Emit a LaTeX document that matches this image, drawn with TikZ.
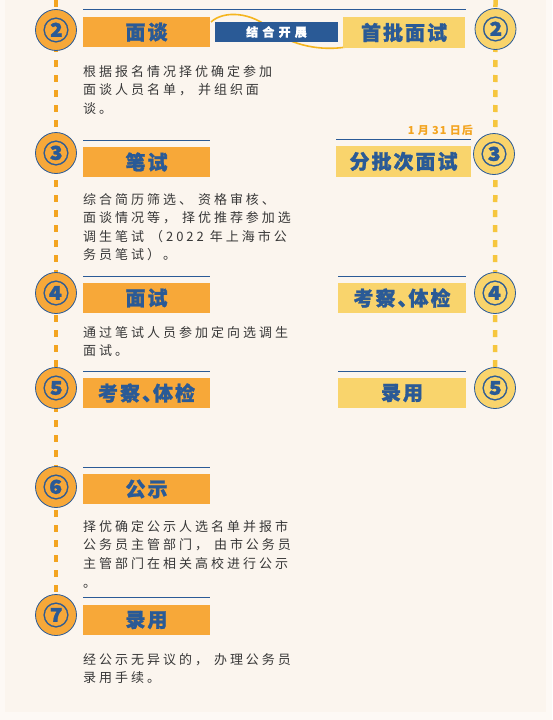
\documentclass[tikz,border=0pt]{standalone}
\usepackage{fontspec}
\setmainfont{Noto Sans CJK SC}
\definecolor{bgmain}{HTML}{FBF5EE}
\definecolor{bgout}{HTML}{FDF9F5}
\definecolor{orng}{HTML}{F7A839}
\definecolor{orngdash}{HTML}{F3A420}
\definecolor{yell}{HTML}{F9D46C}
\definecolor{yelldash}{HTML}{F6C63E}
\definecolor{blu}{HTML}{2A5A96}
\definecolor{txt}{HTML}{383838}
\definecolor{curve}{HTML}{F5B51E}
\newcommand{\dunhao}{、\kern-9pt}
\begin{document}
\begin{tikzpicture}[x=1pt,y=-1pt,
  obox/.style={fill=orng,minimum width=127pt,minimum height=30pt,inner sep=0pt,
    font=\fontsize{20}{20}\selectfont\bfseries\addfontfeature{LetterSpace=10,FakeBold=1.2},text=blu},
  ybox/.style={obox,fill=yell},
  lcirc/.style={circle,fill=orng,draw=blu,line width=0.8pt,minimum size=41pt,inner sep=0pt,
    font=\fontsize{26}{26}\selectfont\bfseries\addfontfeature{FakeBold=1},text=blu},
  rcirc/.style={lcirc,fill=yell},
  body/.style={anchor=base west,inner sep=0pt,text=txt,
    font=\fontsize{13}{13}\selectfont\addfontfeature{LetterSpace=23}},
  topline/.style={draw=blu,line width=0.9pt},
  ldash/.style={draw=orngdash,line width=4.5pt,dash pattern=on 7pt off 8pt},
  rdash/.style={draw=yelldash,line width=4.5pt,dash pattern=on 7pt off 8pt}
]
\useasboundingbox (0,0) rectangle (552,720);
\fill[bgout] (0,0) rectangle (552,720);
\fill[bgmain] (5,0) rectangle (546,712);

\coordinate (lc2p) at (56,30);
\coordinate (lc7p) at (56,615);
\coordinate (rc2p) at (495.5,29);
\coordinate (rc5p) at (495,388);
\coordinate (ltop) at (56,0);
\coordinate (rtop) at (495.5,0);
\draw[ldash] (ltop) -- (lc7p);
\draw[rdash] (rtop) -- (rc5p);

% top lines
\draw[topline] (83,9) -- (466,9);
\draw[topline] (83,140) -- (210,140);
\draw[topline] (336,139) -- (471,139);
\draw[topline] (83,276) -- (210,276);
\draw[topline] (338,276) -- (466,276);
\draw[topline] (83,371) -- (210,371);
\draw[topline] (338,371) -- (466,371);
\draw[topline] (83,467) -- (210,467);
\draw[topline] (83,597) -- (210,597);

% curve around the blue tag
\draw[curve,line width=1.6pt] (211,22) .. controls (224,10) and (252,12) .. (272,30)
  .. controls (292,46) and (322,51) .. (346,47);

\node[obox] (b2) at (146.5,32) {面谈};
\node[fill=blu,minimum width=123pt,minimum height=20pt,inner sep=0pt,text=white,
  font=\fontsize{12}{12}\selectfont\bfseries\addfontfeature{LetterSpace=35,FakeBold=0.8}] (tag) at (276.5,32) {结合开展};
\node[ybox,minimum width=122pt,minimum height=31pt] (r2) at (404,32.5) {首批面试};

\node[obox] (b3) at (146.5,162) {笔试};
\node[ybox,minimum width=135pt,minimum height=31pt] (r3) at (403.5,161.5) {分批次面试};
\node[anchor=base east,inner sep=0pt,text=orngdash,
  font=\fontsize{11}{11}\selectfont\bfseries\addfontfeature{LetterSpace=8}] (date) at (473,134) {1 月 31 日后};

\node[obox] (b4) at (146.5,298) {面试};
\node[ybox,minimum width=128pt] (r4) at (402,298) {考察\dunhao 体检};

\node[obox] (b5) at (146.5,393) {考察\dunhao 体检};
\node[ybox,minimum width=128pt] (r5) at (402,393) {录用};

\node[obox] (b6) at (146.5,489) {公示};
\node[obox] (b7) at (146.5,620) {录用};

% circles
\node[lcirc] (lc2) at (lc2p) {②};
\node[lcirc] (lc3) at (56,153) {③};
\node[lcirc] (lc4) at (56,293) {④};
\node[lcirc] (lc5) at (56,388) {⑤};
\node[lcirc] (lc6) at (56,487) {⑥};
\node[lcirc] (lc7) at (lc7p) {⑦};
\node[rcirc] (rc2) at (rc2p) {②};
\node[rcirc] (rc3) at (494,154) {③};
\node[rcirc] (rc4) at (495,293) {④};
\node[rcirc] (rc5) at (rc5p) {⑤};

% body texts
\node[body] (t2a) at (83,76) {根据报名情况择优确定参加};
\node[body] (t2b) at (83,94.5) {面谈人员名单， 并组织面};
\node[body] (t2c) at (83,113) {谈。};

\node[body] (t3a) at (83,204) {综合简历筛选、 资格审核、};
\node[body] (t3b) at (83,222.5) {面谈情况等， 择优推荐参加选};
\node[body] (t3c) at (83,241) {调生笔试 （2022 年上海市公};
\node[body] (t3d) at (83,259.5) {务员笔试）。};

\node[body] (t4a) at (83,337) {通过笔试人员参加定向选调生};
\node[body] (t4b) at (83,355.5) {面试。};

\node[body] (t6a) at (83,531) {择优确定公示人选名单并报市};
\node[body] (t6b) at (83,549.5) {公务员主管部门， 由市公务员};
\node[body] (t6c) at (83,568) {主管部门在相关高校进行公示};
\node[body] (t6d) at (83,587) {。};

\node[body] (t7a) at (83,664) {经公示无异议的， 办理公务员};
\node[body] (t7b) at (83,682.5) {录用手续。};
\end{tikzpicture}
\end{document}
